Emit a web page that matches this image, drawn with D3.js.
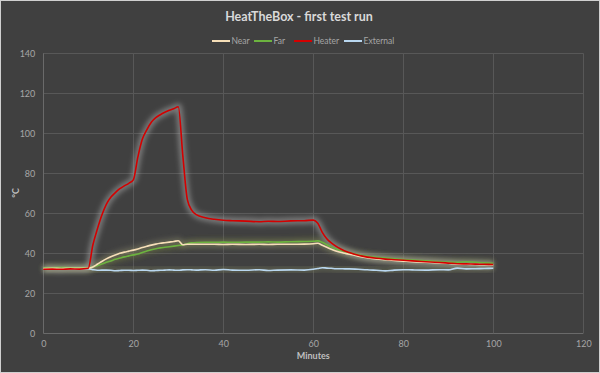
<!DOCTYPE html>
<html><head><meta charset="utf-8">
<script src="https://cdn.jsdelivr.net/npm/d3@7"></script>
<style>
html,body{margin:0;padding:0;background:#404040;}
svg{display:block;}
text{font-family:Lato,"Open Sans",sans-serif;}
</style></head>
<body><svg id="chart" width="600" height="373"></svg>
<script>
const title = "HeatTheBox - first test run";
const xTicks = [0,20,40,60,80,100,120];
const yTicks = [0,20,40,60,80,100,120,140];
const seriesNames = ["Near","Far","Heater","External"];
const minutes = [0,2,4,6,8,10,11,12,13,14,15,16,17,18,19,20,21,22,23,24,25,26,27,28,29,30,31,32,33,34,36,38,40,42,45,48,50,52,55,58,60,61,62,63,64,65,66,67,68,70,72,74,76,78,80,82,85,88,90,92,94,96,98,100];
const near = [32.4,32.5,32.4,32.5,32.5, 32.6,33.2,34.5,35.9,37.2,38.3,39.2,40,40.6,41.1,41.6,42.2,42.9,43.5,44.1,44.6,45,45.3,45.6,45.9,46.3,44.3,44.5,44.5,44.5, 44.5,44.5,44.4,44.5, 44.4,44.5,44.4,44.5,44.5,44.6,44.8, 45,44,43,42,41.2,40.5,40,39.5, 38.6,37.8,37.2,36.8,36.4,36.1,35.8, 35.5,35.2,35,34.6,34.5,34.4,34.3,34.2];
const far = [32.8,32.8,32.9,32.8,32.8, 32.7,33.2,33.8,34.6,35.5,36.2,37,37.6,38.2,38.7,39.2,39.6,40.4,41.2,41.8,42.3,42.7,43,43.3,43.6,43.9,44.2,44.8,45.2,45.4, 45.5,45.5,45.6,45.5, 45.6,45.6,45.7,45.6,45.8,45.9,46, 46.2,45.5,44.3,43.2,42.2,41.4,40.8,40.2, 39.2,38.5,38,37.6,37.2,36.9,36.6, 36.2,35.8,35.6,35.5,35.8,35.5,35.2,35];
const heater = [32,32.1,32,32.2,32.1, 32.5,44,52,59,64.5,68,70.3,72.3,73.7,75,76.7,88,97,101.7,105.5,107.8,109.3,110.5,111.5,112.3,113.3,89,67,61.5,59.3, 57.8,57,56.5,56.3, 56.1,55.8,56,55.9,56.2,56.3,56.6, 55,50.5,47.3,45.2,43.6,42.3,41.2,40.4, 39,38.1,37.5,37.1,36.8,36.5,36.2, 35.8,35.4,35.1,34.8,34.7,34.6,34.5,34.4];
const external = [32.5,32.4,32.5,32.4,32.5, 32.3,31.8,31.5,31.6,31.6,31.5,31.3,31.4,31.5,31.5,31.4,31.5,31.6,31.5,31.3,31.4,31.5,31.6,31.7,31.6,31.5,31.7,31.8,31.7,31.6, 31.8,31.5,31.9,31.6, 31.5,31.8,31.4,31.6,31.7,31.6,32, 32.4,32.8,32.6,32.5,32.3,32.3,32.2,32.2, 32,31.8,31.5,31.2,31.6,31.8,31.7, 31.6,31.8,31.7,32.6,32.2,32.3,32.4,32.5];

const colors = {Near:"#f6dfb8", Far:"#6cb33f", Heater:"#d40000", External:"#b9d7f0"};
const glows = {Near:"#8c8a70", Far:"#6f7a3c", Heater:"#c8c8c8", External:"#7a8060"};
const dataBy = {Near:near, Far:far, Heater:heater, External:external};

const svg = d3.select("#chart");
const W = 600, H = 373;
const m = {left:43.3, right:16.7, top:53.3, bottom:39.7};
const x = d3.scaleLinear().domain([0,120]).range([m.left, W-m.right]);
const y = d3.scaleLinear().domain([0,140]).range([H-m.bottom, m.top]);

svg.append("rect").attr("x",0.5).attr("y",0.5).attr("width",W-1).attr("height",H-1)
  .attr("fill","#404040").attr("stroke","#d0d0d0").attr("stroke-width",1);

const defs = svg.append("defs");
defs.append("filter").attr("id","glow").attr("x","-10%").attr("y","-50%").attr("width","120%").attr("height","200%")
  .append("feGaussianBlur").attr("stdDeviation",2.5);

// grid
const g = svg.append("g");
g.selectAll(".hg").data(yTicks).join("line")
  .attr("x1",x(0)).attr("x2",x(120)).attr("y1",d=>Math.round(y(d))+0.5).attr("y2",d=>Math.round(y(d))+0.5)
  .attr("stroke",d=>d===0?"#6a6a6a":"#585858").attr("stroke-width",1);
g.selectAll(".vg").data(xTicks).join("line")
  .attr("y1",y(0)).attr("y2",y(140)).attr("x1",d=>Math.round(x(d))+0.5).attr("x2",d=>Math.round(x(d))+0.5)
  .attr("stroke",d=>d===0?"#6a6a6a":"#585858").attr("stroke-width",1);

// axes via d3 (labels only)
const yAxis = d3.axisLeft(y).tickValues(yTicks).tickSize(0).tickPadding(8);
const ya = svg.append("g").attr("transform",`translate(${m.left},0)`).call(yAxis);
ya.select(".domain").remove();
ya.selectAll("text").attr("fill","#a6a6a6").style("font-size","9px");
const xAxis = d3.axisBottom(x).tickValues(xTicks).tickSize(0).tickPadding(7);
const xa = svg.append("g").attr("transform",`translate(0,${y(0)})`).call(xAxis);
xa.select(".domain").remove();
xa.selectAll("text").attr("fill","#a6a6a6").style("font-size","9px");

// lines
const line = d3.line().x((d,i)=>x(minutes[i])).y(d=>y(d)).curve(d3.curveMonotoneX);
const order = ["External","Far","Near","Heater"];
order.forEach(n=>{
  svg.append("path").datum(dataBy[n]).attr("d",line).attr("fill","none")
    .attr("stroke",glows[n]).attr("stroke-width",7).attr("stroke-opacity",0.42).attr("filter","url(#glow)");
});
order.forEach(n=>{
  svg.append("path").datum(dataBy[n]).attr("d",line).attr("fill","none")
    .attr("stroke",colors[n]).attr("stroke-width",1.6).attr("stroke-linejoin","round");
});

// title
svg.append("text").attr("x",299).attr("y",21).attr("text-anchor","middle")
  .attr("fill","#d9d9d9").style("font-size","12.5px").style("font-weight","bold").text(title);
// axis titles
svg.append("text").attr("x",x(60)).attr("y",359).attr("text-anchor","middle")
  .attr("fill","#bfbfbf").style("font-size","9px").style("font-weight","bold").text("Minutes");
svg.append("text").attr("transform","translate(19,193) rotate(-90)").attr("text-anchor","middle")
  .attr("fill","#bfbfbf").style("font-size","9px").style("font-weight","bold").text("°C");

// legend
const legX = {Near:212, Far:254, Heater:294, External:344};
seriesNames.forEach(n=>{
  const lg = svg.append("g").attr("transform",`translate(${legX[n]},41)`);
  lg.append("line").attr("x1",0).attr("x2",18).attr("y1",0).attr("y2",0)
    .attr("stroke",colors[n]).attr("stroke-width",2);
  lg.append("text").attr("x",19.5).attr("y",3).attr("fill","#a6a6a6").style("font-size","8.5px").text(n);
});
</script></body></html>
